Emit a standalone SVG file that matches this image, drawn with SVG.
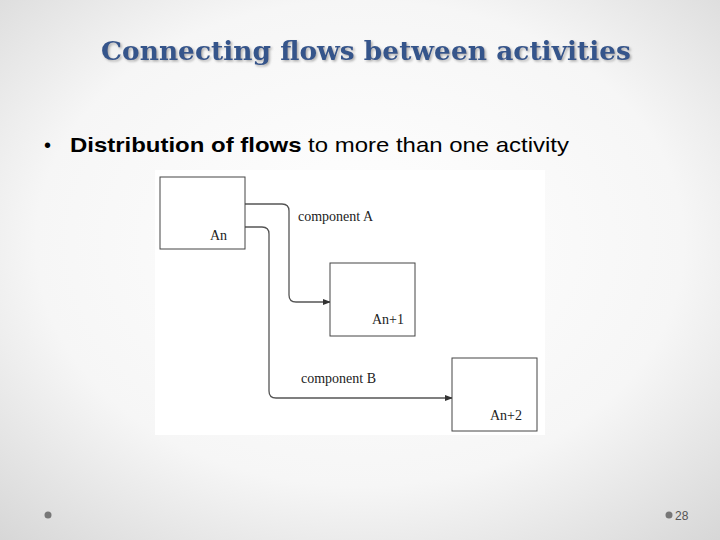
<svg xmlns="http://www.w3.org/2000/svg" width="720" height="540" viewBox="0 0 720 540">
<defs>
<radialGradient id="bg" cx="50%" cy="45%" r="75%">
<stop offset="0" stop-color="#ffffff"/><stop offset="0.6" stop-color="#f6f6f6"/><stop offset="1" stop-color="#d6d6d6"/>
</radialGradient>
<filter id="sh" x="-5%" y="-20%" width="110%" height="140%"><feDropShadow dx="1.5" dy="1.5" stdDeviation="0.8" flood-color="#999" flood-opacity="0.8"/></filter>
<marker id="ar" markerWidth="8" markerHeight="6" refX="7" refY="3" orient="auto" markerUnits="userSpaceOnUse"><path d="M0,0 L8,3 L0,6 z" fill="#333"/></marker>
<style>
.box{fill:#fff;stroke:#444;stroke-width:1}
.lbl{font-family:"Liberation Sans",sans-serif;font-size:13px;fill:#222}
.con{fill:none;stroke:#555;stroke-width:1.3}
</style>
</defs>
<rect width="720" height="540" fill="url(#bg)"/>
<text x="101" y="60" textLength="530" lengthAdjust="spacingAndGlyphs" font-family="DejaVu Serif,serif" font-weight="bold" font-size="26" fill="#34558b" filter="url(#sh)">Connecting flows between activities</text>
<text x="44" y="152" font-family="Liberation Sans,sans-serif" font-size="20" fill="#000">•</text>
<text x="70" y="152" textLength="499" lengthAdjust="spacingAndGlyphs" font-family="Liberation Sans,sans-serif" font-size="21" fill="#000"><tspan font-weight="bold">Distribution of flows</tspan> to more than one activity</text>
<rect x="155" y="170" width="390" height="265" fill="#fff"/>
<g id="connectors">
<path class="con" d="M245,204 H282 Q289,204 289,211 V295 Q289,302 296,302 H330" marker-end="url(#ar)"/>
<path class="con" d="M245,227 H262 Q269,227 269,234 V391 Q269,398 276,398 H452" marker-end="url(#ar)"/>
<text class="lbl" x="298" y="221" font-family="Liberation Serif,serif" style="font-family:'Liberation Serif',serif;font-size:14px">component A</text>
<text class="lbl" x="301" y="383" style="font-family:'Liberation Serif',serif;font-size:14px">component B</text>
</g>
<g id="An"><rect class="box" x="160" y="177" width="85" height="72"/><text class="lbl" x="210" y="240" style="font-family:'Liberation Serif',serif;font-size:14px">An</text></g>
<g id="An1"><rect class="box" x="330" y="263" width="85" height="73"/><text class="lbl" x="372" y="324" style="font-family:'Liberation Serif',serif;font-size:14px">An+1</text></g>
<g id="An2"><rect class="box" x="452" y="358" width="85" height="73"/><text class="lbl" x="490" y="420" style="font-family:'Liberation Serif',serif;font-size:14px">An+2</text></g>
<circle cx="48" cy="515" r="3.5" fill="#777"/>
<circle cx="669" cy="515" r="3.5" fill="#777"/>
<text x="675" y="520" font-family="Liberation Sans,sans-serif" font-size="12" fill="#555">28</text>
</svg>
